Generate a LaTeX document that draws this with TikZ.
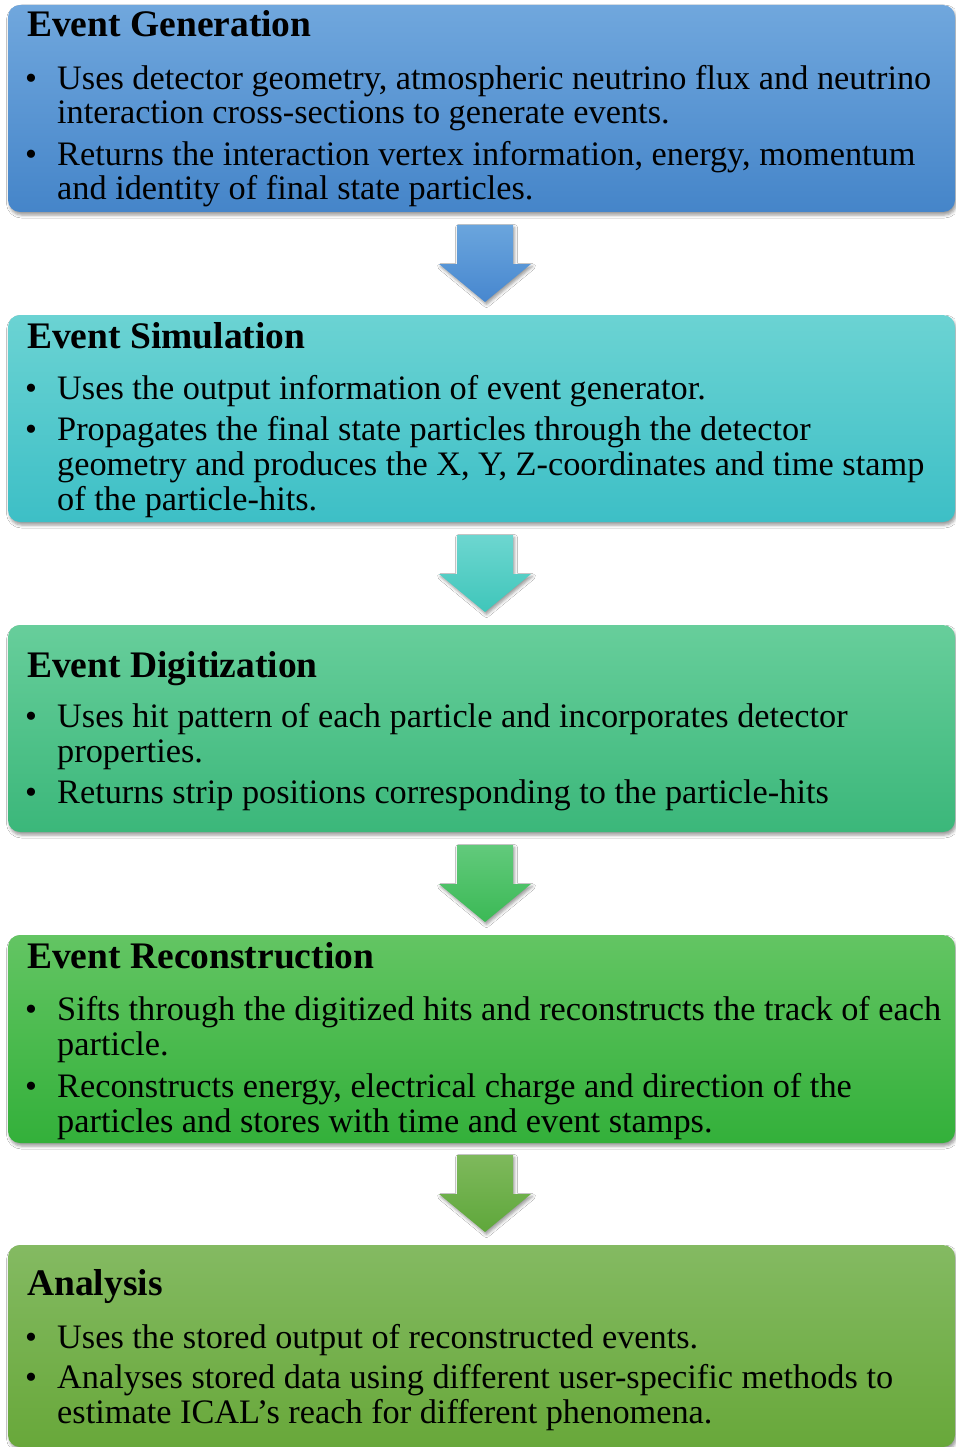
\documentclass[tikz,border=0pt]{standalone}
\usepackage{fontspec}
\setmainfont{Liberation Serif}
\usetikzlibrary{shadows,shadows.blur}
\definecolor{aT}{HTML}{70A7DD}\definecolor{aB}{HTML}{4585C9}
\definecolor{bT}{HTML}{6BD3D3}\definecolor{bB}{HTML}{3DBFC6}
\definecolor{cT}{HTML}{67CE9B}\definecolor{cB}{HTML}{3BB77A}
\definecolor{dT}{HTML}{63C563}\definecolor{dB}{HTML}{33B03A}
\definecolor{eT}{HTML}{84BA62}\definecolor{eB}{HTML}{68A83A}
\definecolor{pa1}{HTML}{6AA5DD}\definecolor{pa2}{HTML}{4787CF}
\definecolor{pb1}{HTML}{6DD6D0}\definecolor{pb2}{HTML}{3FC6BA}
\definecolor{pc1}{HTML}{62CA7C}\definecolor{pc2}{HTML}{3BB955}
\definecolor{pd1}{HTML}{7EB95C}\definecolor{pd2}{HTML}{5FA73B}
\newcommand\stagearrow[4]{%
  \shade[top color=#2,bottom color=#3,blur shadow={shadow xshift=1.5pt,shadow yshift=-2.5pt,shadow blur radius=3pt}]
    (457,#1) coordinate (#4) -- ++(56,0) -- ++(0,39) -- ++(18,0) -- ++(-46,38) -- ++(-46,-38) -- ++(18,0) -- cycle;}
\begin{document}
\begin{tikzpicture}[x=1pt,y=-1pt,
  stage/.style={rounded corners=12pt, minimum width=947pt, inner sep=0pt,
    blur shadow={shadow xshift=1.5pt,shadow yshift=-3pt,shadow blur radius=3pt}},
  ttl/.style={anchor=base west, inner sep=0pt, font=\fontsize{37.5}{37.5}\selectfont\bfseries},
  txt/.style={anchor=base west, inner sep=0pt, font=\fontsize{34.3}{34.3}\selectfont},
  bul/.style={anchor=base west, inner sep=0pt, font=\fontsize{34}{34}\selectfont}]
\useasboundingbox (0,0) rectangle (955,1447);
\fill[white] (0,0) rectangle (955,1447);
% boxes
\node[stage, top color=aT, bottom color=aB, minimum height=207pt] (gen) at (481.5,108.5) {};
\node[stage, top color=bT, bottom color=bB, minimum height=207pt] (sim) at (481.5,418.5) {};
\node[stage, top color=cT, bottom color=cB, minimum height=207pt] (dig) at (481.5,728.5) {};
\node[stage, top color=dT, bottom color=dB, minimum height=208pt] (rec) at (481.5,1039) {};
\node[stage, top color=eT, bottom color=eB, minimum height=202pt] (ana) at (481.5,1346) {};
% arrows
\stagearrow{225}{pa1}{pa2}{a1}
\stagearrow{535}{pb1}{pb2}{a2}
\stagearrow{845}{pc1}{pc2}{a3}
\stagearrow{1155}{pd1}{pd2}{a4}
% box 1
\node[ttl] (gt) at (27,37) {Event Generation};
\node[bul] (gb1) at (25,90) {•};
\node[txt] (g1) at (57,90) {Uses detector geometry, atmospheric neutrino flux and neutrino};
\node[txt] (g2) at (57,124) {interaction cross-sections to generate events.};
\node[bul] (gb2) at (25,166) {•};
\node[txt] (g3) at (57,166) {Returns the interaction vertex information, energy, momentum};
\node[txt] (g4) at (57,200) {and identity of final state particles.};
% box 2
\node[ttl] (st) at (27,348) {Event Simulation};
\node[bul] (sb1) at (25,399) {•};
\node[txt] (s1) at (57,399) {Uses the output information of event generator.};
\node[bul] (sb2) at (25,440) {•};
\node[txt] (s2) at (57,440) {Propagates the final state particles through the detector};
\node[txt] (s3) at (57,475) {geometry and produces the X, Y, Z-coordinates and time stamp};
\node[txt] (s4) at (57,510) {of the particle-hits.};
% box 3
\node[ttl] (dt) at (27,677) {Event Digitization};
\node[bul] (db1) at (25,727) {•};
\node[txt] (d1) at (57,727) {Uses hit pattern of each particle and incorporates detector};
\node[txt] (d2) at (57,762) {properties.};
\node[bul] (db2) at (25,803) {•};
\node[txt] (d3) at (57,803) {Returns strip positions corresponding to the particle-hits};
% box 4
\node[ttl] (rt) at (27,968) {Event Reconstruction};
\node[bul] (rb1) at (25,1020) {•};
\node[txt] (r1) at (57,1020) {Sifts through the digitized hits and reconstructs the track of each};
\node[txt] (r2) at (57,1055) {particle.};
\node[bul] (rb2) at (25,1097) {•};
\node[txt] (r3) at (57,1097) {Reconstructs energy, electrical charge and direction of the};
\node[txt] (r4) at (57,1132) {particles and stores with time and event stamps.};
% box 5
\node[ttl] (at) at (27,1295) {Analysis};
\node[bul] (ab1) at (25,1348) {•};
\node[txt] (a1t) at (57,1348) {Uses the stored output of reconstructed events.};
\node[bul] (ab2) at (25,1388) {•};
\node[txt] (a2t) at (57,1388) {Analyses stored data using different user-specific methods to};
\node[txt] (a3t) at (57,1423) {estimate ICAL’s reach for different phenomena.};
\end{tikzpicture}
\end{document}
